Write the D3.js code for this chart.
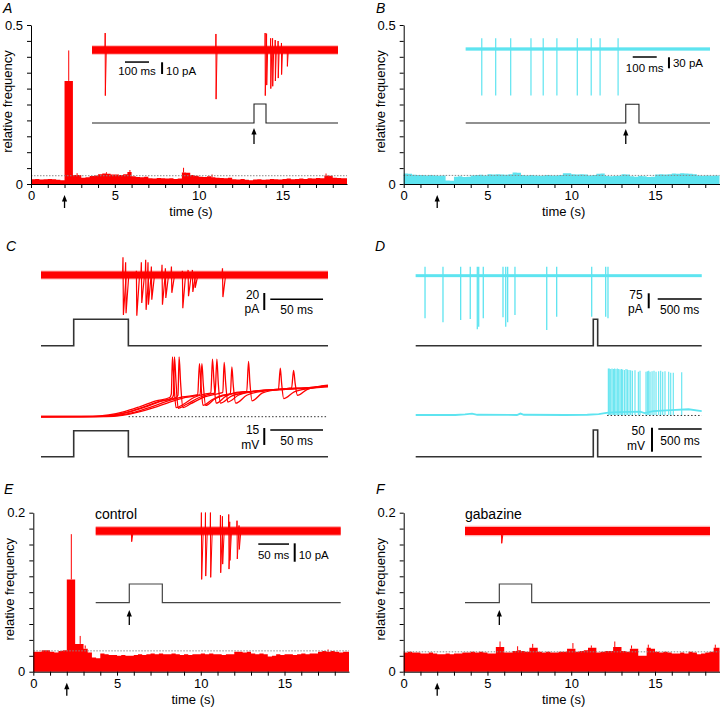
<!DOCTYPE html>
<html><head><meta charset="utf-8">
<script src="https://cdn.jsdelivr.net/npm/d3@7"></script>
<style>
html,body{margin:0;padding:0;background:#fff;}
svg{display:block;font-family:"Liberation Sans",Arial,Helvetica,sans-serif;}
</style></head><body>
<script>
// ---------------- DATA ----------------
const tMax = 18.85;               // s, histogram time axis end
const binWidth = 0.25;            // s
const timeTicks = d3.range(0, 19, 1);
const timeLabels = [0, 5, 10, 15];

const histA = [0.015,0.016,0.014,0.015,0.016,0.015,0.013,0.012,
  0.324,0.324, 0.028,0.028, 0.020,0.021, 0.025,0.027,
  0.031,0.033,0.032,0.030, 0.030,0.028,0.031, 0.038,
  0.024,0.022,0.021,0.023, 0.018,0.017,0.019,0.018,0.017,0.018,0.016,0.017,
  0.036,0.035, 0.028,0.026, 0.023,0.022,0.024,0.021, 0.020,0.019,0.018,0.020,
  0.015,0.014,0.016,0.013,0.012,0.014,0.015,0.013,0.014,0.016,0.015,0.014,
  0.016,0.017,0.015,0.016, 0.017,0.016,0.018,0.017,0.019,0.018, 0.027,0.026,
  0.020,0.019,0.018,0.018];
const errA = [[2.25,0.42],[2.75,0.034],[4.5,0.037],[5.9,0.044],[9.1,0.051],[10.8,0.030],[17.6,0.033]];
const meanA = 0.026;

const histB = [0.033,0.032, 0.029,0.028,0.028,0.027,0.028,0.027, 0.026,0.027, 0.011,0.010,
  0.023,0.024,0.022,0.023, 0.027,0.028,0.029,0.027, 0.031,0.030,0.031,0.030,0.029,0.031,
  0.036,0.035, 0.028,0.027,0.028,0.027,0.026,0.027,0.028,0.027, 0.027,0.028, 0.034,0.034,
  0.031,0.030,0.031,0.030, 0.027,0.028, 0.032,0.033, 0.025,0.024,0.025,0.026, 0.031,0.030,
  0.024,0.023, 0.025,0.024,0.022,0.023, 0.030,0.031,0.030,0.031,
  0.033,0.032,0.034,0.033,0.032,0.031, 0.027,0.026,0.027,0.026,0.027,0.027];
const errB = [];
const meanB = 0.027;

const histE = [0.025,0.025, 0.027,0.027, 0.025,0.024, 0.026,0.027, 0.116,0.116, 0.035,0.035,
  0.029,0.024, 0.018,0.017, 0.023,0.022, 0.021,0.021,
  0.020,0.021,0.020,0.020, 0.021,0.022,0.021,0.022, 0.023,0.022,0.023,0.022,
  0.022,0.023,0.022,0.021, 0.022,0.021,0.022,0.022, 0.023,0.022,0.023,0.022,
  0.022,0.021,0.022,0.022, 0.025,0.025,0.024,0.025, 0.023,0.022,0.023,0.022,
  0.019,0.020, 0.022,0.021, 0.022,0.022,0.021,0.022, 0.023,0.022,0.023,0.023,
  0.025,0.026,0.025,0.026, 0.025,0.024,0.025,0.025];
const errE = [[2.27,0.173],[2.8,0.045],[3.1,0.033],[17.6,0.028]];
const meanE = 0.0262;

const histF = [0.024,0.025,0.024,0.024, 0.023,0.023,0.024,0.023, 0.022,0.022,0.023,0.022,
  0.023,0.023, 0.024,0.024, 0.025,0.024,0.025,0.024, 0.023,0.023, 0.031,0.031,
  0.024,0.024, 0.026,0.027, 0.026,0.025, 0.030,0.030, 0.025,0.024,0.025,0.024,
  0.024,0.025, 0.025,0.029,0.029,0.025, 0.026,0.027, 0.030,0.030, 0.024,0.025,
  0.026,0.026, 0.031,0.031, 0.026,0.025, 0.029,0.029, 0.020,0.020, 0.030,0.029,
  0.025,0.024,0.025,0.024, 0.023,0.023,0.024,0.023, 0.025,0.024, 0.022,0.023,
  0.024,0.025, 0.030,0.030];
const errF = [[5.75,0.038],[6.8,0.032],[7.7,0.035],[10.1,0.036],[11.2,0.033],[12.6,0.038],[13.6,0.033],[14.6,0.034],[18.6,0.034]];
const meanF = 0.025;

// inset current traces: spikes [t ms, up pA, down pA]
const spikesA = [[55.5,14.5,-39],[517,13.7,-42],[722,14.5,-39],[728,14,-30],[745,10,-33],[753,10,-31],[764,8.5,-26.5],[776,7.7,-24],[790,6,-21],[814,2,-14]];
const spikesB = [67,125,187.5,272,323,380,465,523,560,635];
const spikeBUp = 29, spikeBDown = -127;
const spikesCtop = [[78.1,21,-47],[80.6,15,-45],[90.8,5,-48],[95.5,15,-33],[99.6,18,-41],[101.8,15,-35],[105,10,-29],[115.1,12,-35],[118.3,8,-27],[124,10,-21],[134.4,5,-39],[139.8,6,-25],[143.9,6,-20],[146.1,3,-15],[172.4,8,-26]];
const spikesDtop = [[106,213],[310,233],[511,222],[620,217],[700,268],[716,255],[768,213],[992,208],[1023,255],[1045,233],[1128,197],[1489,272],[1602,205],[2000,205],[2159,205],[2185,213]];
const spikeDUp = 45;
const spikesE = [[58.6,0,-5.8],[172.6,10,-26.3],[179.2,10,-24.5],[187.3,10,-25.2],[203.6,8.7,-22.7],[206.8,8,-18],[217.1,9,-20.7],[218.7,5,-16],[230.6,5.6,-15.2],[233.9,3,-10]];
const spikesF = [[59.8,0,-6.7]];

// membrane potential sweeps in C (t ms, mV)
const sweepsC = [
 [[0,0.2],[49,0.3],[64,1.5],[79,4.5],[94,9],[109,14],[122,17],[123.5,20],[124.6,53],[126,30],[128,8],[135,11],[145,17],[155,20],[161,21],[162.5,51],[164,30],[166,12],[175,18],[185,21.5],[195,22.5],[196.7,49],[198,30],[200,14],[210,21],[230,24.5],[250,25.5],[272,27]],
 [[0,-0.3],[52,0],[67,1.2],[82,4],[97,8.5],[112,13.5],[124,16.5],[125.5,19],[126.5,53],[128,30],[130,7.5],[138,11],[150,17],[160,20],[165,21],[166.7,51],[168,30],[170,12],[180,18],[195,21.5],[215,23.5],[225,24],[226.8,43],[228,30],[230,16],[240,22],[255,25],[272,27.5]],
 [[0,0],[55,0.2],[70,1.5],[85,4.5],[100,9],[115,14],[128,17],[129.8,19],[130.9,53],[132.3,30],[134.5,8],[142,11.5],[155,17.5],[168,20.5],[172.3,21.5],[173.6,48],[175,30],[177,13],[187,19],[200,22],[220,24],[237.5,25.5],[239.4,41],[240.8,30],[243,19],[252,24],[272,28]],
 [[0,0.3],[59,0.3],[74,1.3],[89,4],[104,8.5],[119,13.5],[134,17.5],[148.5,19.5],[150.2,47],[151.5,30],[153.5,10],[162,15],[172,19],[179.5,20.5],[180.9,44],[182.2,28],[184.5,12],[195,19],[210,22.5],[230,24],[250,25],[272,26.5]],
 [[0,-0.2],[62,0],[77,1.2],[92,4],[107,8],[122,13],[137,17],[150.8,19.5],[152.5,47],[153.8,29],[156,10],[165,16],[180,20],[200,22.5],[230,24.5],[250,25.5],[272,27]]
];
// membrane potential in D (t ms, mV)
const baseDv = [[0,0],[450,0],[560,1.5],[640,3],[700,0.5],[1150,0],[1190,3],[1230,0.5],[1700,0],[1950,0.5],[2080,2],[2150,4],[2190,5],[2300,6],[2550,7],[2600,4],[2700,8],[2900,10],[3100,12],[3250,8]];
const spikesDv = [[2189,97],[2200,97],[2216,96],[2231,97],[2246,96],[2261,97],[2276,96],[2291,97],[2307,96],[2322,95],[2337,96],[2352,95],[2371,94],[2390,96],[2405,95],[2424,94],[2443,93],[2462,92],[2492,93],[2530,90],[2549,92],[2617,90],[2632,91],[2648,92],[2663,90],[2686,91],[2708,92],[2731,90],[2761,91],[2784,92],[2807,90],[2833,91],[2875,90],[2898,88],[2927,88],[3023,89]];

// stimulus pulses [on, off] ms
const stimA = [675,725], stimB = [667,722], stimC = [31,82.8], stimD = [2018,2068], stimE = [54.7,108.5], stimF = [55.9,108.6];

// ---------------- DRAW ----------------
const RED = '#ff0000', CYAN = '#5ee4f0', STIM = '#222';
const svg = d3.select('body').append('svg').attr('width',720).attr('height',709);

function txt(x,y,s,size,anchor,extra){
  const t = svg.append('text').attr('x',x).attr('y',y).attr('font-size',size).attr('text-anchor',anchor||'start').text(s);
  if(extra) extra(t);
  return t;
}
function arrow(x,yHead,yTail){
  svg.append('line').attr('x1',x).attr('x2',x).attr('y1',yTail).attr('y2',yHead+4).attr('stroke','#000').attr('stroke-width',1.3);
  svg.append('path').attr('d',`M${x},${yHead}L${x-2.6},${yHead+6.5}L${x+2.6},${yHead+6.5}Z`).attr('fill','#000');
}

function histPanel(o){
  const g = svg.append('g');
  const x = d3.scaleLinear().domain([0,tMax]).range([o.left,o.right]);
  const y = d3.scaleLinear().domain([0,o.ymax]).range([o.bottom,o.top]);
  const pts = o.values.map((v,i)=>[i*binWidth,v]).filter(d=>d[0]<tMax);
  pts.push([tMax, pts[pts.length-1][1]]);
  g.append('path').attr('fill',o.color)
    .attr('d', d3.area().x(d=>x(d[0])).y0(y(0)).y1(d=>y(d[1])).curve(d3.curveStepAfter)(pts));
  g.selectAll(null).data(o.errs).join('line')
    .attr('x1',d=>x(d[0])).attr('x2',d=>x(d[0]))
    .attr('y1',d=>y(o.values[Math.floor(d[0]/binWidth)])).attr('y2',d=>y(d[1]))
    .attr('stroke',o.color).attr('stroke-width',1);
  g.append('line').attr('x1',x(0)).attr('x2',x(tMax)).attr('y1',y(o.mean)).attr('y2',y(o.mean))
    .attr('stroke','#8a8a8a').attr('stroke-width',1).attr('stroke-dasharray','1.5,1.5');
  const ax = d3.axisBottom(x).tickValues(timeTicks).tickSize(4).tickSizeOuter(0).tickPadding(3)
    .tickFormat(d=>timeLabels.includes(d)?String(d):'');
  const gx = g.append('g').attr('transform',`translate(0,${o.bottom})`).call(ax);
  const yt = d3.range(0, o.ymax+1e-9, o.ystep);
  const ay = d3.axisLeft(y).tickValues(yt).tickSize(4).tickSizeOuter(0).tickPadding(4)
    .tickFormat(d=>Math.abs(d)<1e-9?'0':(Math.abs(d-o.ymax)<1e-9?String(o.ymax):''));
  const gy = g.append('g').attr('transform',`translate(${o.left},0)`).call(ay);
  [gx,gy].forEach(a=>{a.attr('font-size',13).attr('font-family',null);a.selectAll('text').attr('fill','#000');a.selectAll('line,path').attr('stroke','#000');});
  g.append('text').attr('x',(o.left+o.right)/2+2).attr('y',o.bottom+32).attr('text-anchor','middle').attr('font-size',13).text('time (s)');
  g.append('text').attr('transform',`translate(${o.left-19},${(o.top+o.bottom)/2-3}) rotate(-90)`).attr('text-anchor','middle').attr('font-size',13).text('relative frequency');
  arrow(x(2), o.bottom+11, o.bottom+24);
  return {x,y};
}

function spikeLine(xs, ys, pts){ return d3.line().x(d=>xs(d[0])).y(d=>ys(d[1]))(pts); }

function band(xs, ys, amp, color){
  const w = Math.abs(ys(amp)-ys(-amp));
  const [t0,t1] = xs.domain();
  svg.append('line').attr('x1',xs(t0)).attr('x2',xs(t1)).attr('y1',ys(0)).attr('y2',ys(0))
    .attr('stroke',color).attr('stroke-width',w*1.3).attr('stroke-opacity',0.3);
  svg.append('line').attr('x1',xs(t0)).attr('x2',xs(t1)).attr('y1',ys(0)).attr('y2',ys(0))
    .attr('stroke',color).attr('stroke-width',w);
}
function biphasic(xs, ys, spikes, w, decay, color, sw){
  spikes.forEach(s=>{
    const [t,up,down]=s;
    svg.append('path').attr('d',spikeLine(xs,ys,[[t-w,0],[t-w/2,up],[t,down],[t+decay,0]]))
      .attr('fill','none').attr('stroke',color).attr('stroke-width',sw||1);
  });
}
function stim(xs, yBase, yTop, pulse, width, color){
  const ys = d3.scaleLinear().domain([0,1]).range([yBase,yTop]);
  const [t0,t1] = xs.domain();
  const pts = [[t0,0],[pulse[0],0],[pulse[0],1],[pulse[1],1],[pulse[1],0],[t1,0]];
  svg.append('path').attr('d',spikeLine(xs,ys,pts)).attr('fill','none').attr('stroke',color||STIM).attr('stroke-width',width||1);
}
function sbar(x1,y1,x2,y2,w){
  svg.append('line').attr('x1',x1).attr('x2',x2).attr('y1',y1).attr('y2',y2).attr('stroke','#000').attr('stroke-width',w||1.5);
}

// ---- Panel A ----
histPanel({left:31,right:347,top:25,bottom:184,ymax:0.5,ystep:0.05,values:histA,errs:errA,mean:meanA,color:RED});
{
  const xs = d3.scaleLinear().domain([0,1025]).range([92,338]);
  const ys = d3.scaleLinear().domain([-40,20]).range([50+40*1.17,50-20*1.17]);
  band(xs, ys, 3.2, RED);
  biphasic(xs, ys, spikesA, 1.2, 4, RED, 1);
  sbar(xs(137.5),ys(-10.3),xs(237.5),ys(-10.3));
  sbar(xs(292),ys(-10.5),xs(292),ys(-20.5),2);
  txt((xs(137.5)+xs(237.5))/2,74.5,'100 ms',11.5,'middle');
  txt(xs(292)+4,74.5,'10 pA',11.5,'start');
  stim(xs,123,104,stimA,1.1);
  arrow(xs(stimA[0]),128,144);
}
txt(3,13,'A',14,'start',t=>t.attr('font-style','italic'));

// ---- Panel B ----
histPanel({left:403.7,right:719.5,top:25,bottom:184,ymax:0.5,ystep:0.05,values:histB,errs:errB,mean:meanB,color:CYAN});
{
  const xs = d3.scaleLinear().domain([0,1018]).range([465.7,710]);
  const ys = d3.scaleLinear().domain([-130,30]).range([49+130*0.367,49-30*0.367]);
  band(xs, ys, 4, CYAN);
  svg.selectAll(null).data(spikesB).join('line')
    .attr('x1',d=>xs(d)).attr('x2',d=>xs(d)).attr('y1',ys(spikeBUp)).attr('y2',ys(spikeBDown))
    .attr('stroke',CYAN).attr('stroke-width',1.2);
  sbar(xs(696),ys(-21.8),xs(796),ys(-21.8));
  sbar(xs(847),ys(-22.6),xs(847),ys(-52.6),2);
  txt((xs(696)+xs(796))/2,71.5,'100 ms',11.5,'middle');
  txt(xs(847)+4,66.5,'30 pA',11.5,'start');
  stim(xs,123,104.3,stimB,1.1);
  arrow(xs(stimB[0]),129,144);
}
txt(376,13,'B',14,'start',t=>t.attr('font-style','italic'));

// ---- Panel C ----
{
  const xs = d3.scaleLinear().domain([0,272]).range([41,328]);
  const yi = d3.scaleLinear().domain([-50,25]).range([275+50*0.85,275-25*0.85]);
  band(xs, yi, 4.0, RED);
  biphasic(xs, yi, spikesCtop, 0.8, 2.6, RED, 1.2);
  sbar(xs(211.6),yi(-21.2),xs(211.6),yi(-41.2),2);
  sbar(xs(217.3),yi(-28.6),xs(267.3),yi(-28.6));
  txt(xs(211.6)-5,298.5,'20',12,'end');
  txt(xs(211.6)-5,313,'pA',12,'end');
  txt((xs(217.3)+xs(267.3))/2,314,'50 ms',12,'middle');
  stim(xs,345.7,319.3,stimC,1.6,'#333');

  const yv = d3.scaleLinear().domain([-30,60]).range([416.7+30*1.13,416.7-60*1.13]);
  svg.append('line').attr('x1',xs(83)).attr('x2',xs(272)).attr('y1',yv(0)).attr('y2',yv(0))
    .attr('stroke','#333').attr('stroke-width',1).attr('stroke-dasharray','1.5,2');
  const ln = d3.line().x(d=>xs(d[0])).y(d=>yv(d[1])).curve(d3.curveMonotoneX);
  svg.selectAll(null).data(sweepsC).join('path').attr('d',ln).attr('fill','none').attr('stroke',RED).attr('stroke-width',1.3);
  sbar(xs(211.6),yv(-10),xs(211.6),yv(-25),2);
  sbar(xs(217.3),yv(-11.8),xs(267.3),yv(-11.8));
  txt(xs(211.6)-5,434,'15',12,'end');
  txt(xs(211.6)-5,448.5,'mV',12,'end');
  txt((xs(217.3)+xs(267.3))/2,444.5,'50 ms',12,'middle');
  stim(xs,456.7,430.7,stimC,1.6,'#333');
}
txt(6,251,'C',14,'start',t=>t.attr('font-style','italic'));

// ---- Panel D ----
{
  const xs = d3.scaleLinear().domain([0,3250]).range([415.7,701.7]);
  const yi = d3.scaleLinear().domain([-280,50]).range([275.7+280*0.2,275.7-50*0.2]);
  band(xs, yi, 7, CYAN);
  svg.selectAll(null).data(spikesDtop).join('line')
    .attr('x1',d=>xs(d[0])).attr('x2',d=>xs(d[0])).attr('y1',yi(spikeDUp)).attr('y2',d=>yi(-d[1]))
    .attr('stroke',CYAN).attr('stroke-width',1.3);
  sbar(xs(2648),yi(-88),xs(2648),yi(-163),2);
  sbar(xs(2750),yi(-116.5),xs(3250),yi(-116.5));
  txt(xs(2648)-6,299,'75',12,'end');
  txt(xs(2648)-6,313,'pA',12,'end');
  txt((xs(2750)+xs(3250))/2,313.5,'500 ms',12,'middle');
  stim(xs,345.7,319.3,stimD,1.6,'#333');

  const yv = d3.scaleLinear().domain([-80,100]).range([415+80*0.48,415-100*0.48]);
  svg.append('line').attr('x1',xs(2175)).attr('x2',xs(3250)).attr('y1',yv(-1)).attr('y2',yv(-1))
    .attr('stroke','#333').attr('stroke-width',1).attr('stroke-dasharray','1.5,2');
  svg.append('path').attr('d',d3.line().x(d=>xs(d[0])).y(d=>yv(d[1]))(baseDv)).attr('fill','none').attr('stroke',CYAN).attr('stroke-width',1.8);
  svg.selectAll(null).data(spikesDv).join('line')
    .attr('x1',d=>xs(d[0])).attr('x2',d=>xs(d[0])).attr('y1',yv(0)).attr('y2',d=>yv(d[1]))
    .attr('stroke',CYAN).attr('stroke-width',1.1);
  sbar(xs(2685),yv(-26.5),xs(2685),yv(-76.5),2);
  sbar(xs(2757),yv(-29.2),xs(3250),yv(-29.2));
  txt(xs(2685)-7,434.5,'50',12,'end');
  txt(xs(2685)-7,450,'mV',12,'end');
  txt((xs(2757)+xs(3250))/2,444.5,'500 ms',12,'middle');
  stim(xs,456.7,430,stimD,1.6,'#333');
}
txt(375,251,'D',14,'start',t=>t.attr('font-style','italic'));

// ---- Panel E ----
histPanel({left:33.3,right:349,top:512.7,bottom:671.7,ymax:0.2,ystep:0.02,values:histE,errs:errE,mean:meanE,color:RED});
{
  const xs = d3.scaleLinear().domain([0,399]).range([95.7,340.7]);
  const ys = d3.scaleLinear().domain([-30,12]).range([531+30*1.84,531-12*1.84]);
  band(xs, ys, 2.1, RED);
  biphasic(xs, ys, spikesE, 0.9, 2.5, RED, 1);
  sbar(xs(264.8),ys(-7.1),xs(314.8),ys(-7.1));
  sbar(xs(324.1),ys(-6.7),xs(324.1),ys(-16.7),2);
  txt((xs(264.8)+xs(314.8))/2,559,'50 ms',11.5,'middle');
  txt(xs(324.1)+4,559,'10 pA',11.5,'start');
  txt(95,518.5,'control',14,'start');
  stim(xs,602.7,584,stimE,1.2,'#444');
  arrow(xs(stimE[0]),610,625);
}
txt(4,494,'E',14,'start',t=>t.attr('font-style','italic'));

// ---- Panel F ----
histPanel({left:403.7,right:719.5,top:512.7,bottom:671.7,ymax:0.2,ystep:0.02,values:histF,errs:errF,mean:meanF,color:RED});
{
  const xs = d3.scaleLinear().domain([0,399]).range([465,710]);
  const ys = d3.scaleLinear().domain([-30,12]).range([531+30*1.84,531-12*1.84]);
  band(xs, ys, 2.2, RED);
  biphasic(xs, ys, spikesF, 0.9, 2.5, RED, 1);
  txt(465,518.5,'gabazine',14,'start');
  stim(xs,602.7,584,stimF,1.2,'#444');
  arrow(xs(stimF[0]),610,625);
}
txt(376,494,'F',14,'start',t=>t.attr('font-style','italic'));
</script>
</body></html>
